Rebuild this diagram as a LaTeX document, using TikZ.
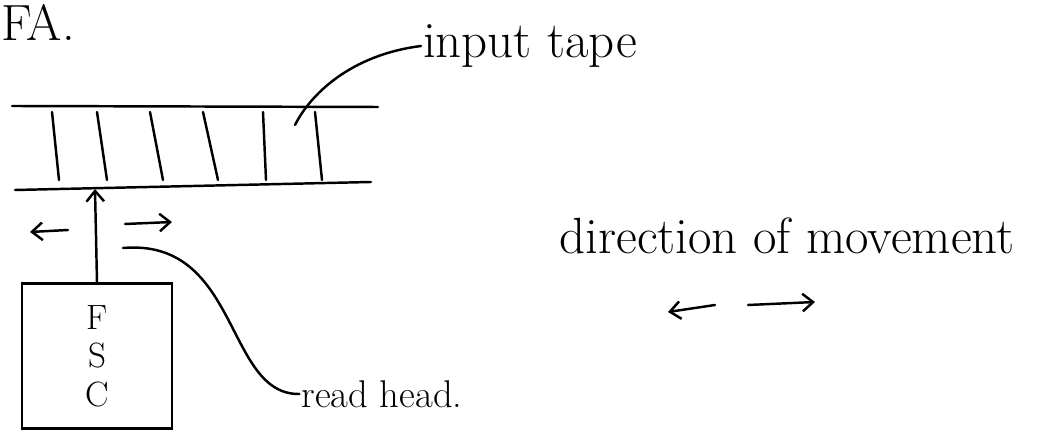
\documentclass[tikz,border=0pt]{standalone}
\usetikzlibrary{arrows.meta,positioning}
\tikzset{
  pen/.style={line width=1.4pt, line cap=round},
  hand/.style={font=\fontsize{29}{31}\selectfont, inner sep=1pt},
  smallhand/.style={font=\fontsize{22}{24}\selectfont, inner sep=1pt},
  letters/.style={font=\fontsize{20}{22}\selectfont, align=center},
  leader/.style={pen},
  headarrow/.style={pen, -{Straight Barb[length=6pt,width=10pt]}},
}
\begin{document}
\begin{tikzpicture}[x=0.02cm, y=-0.02cm]
  \useasboundingbox (0,0) rectangle (1061,431);
  % title
  \node[hand] (fa) at (38,22) {FA.};
  % the tape and its cells
  \draw[pen] (12,106) -- (378,107);
  \draw[pen] (15,190) -- (371,182);
  \foreach \xa/\xb in {52/59, 97/107, 150/163, 203/218, 263/266, 315/322}
    \draw[pen] (\xa,112) -- (\xb,180);
  \node[hand] (tape) at (530,46) {input tape};
  \coordinate (cell) at (295,125);
  \draw[leader] (tape.west) .. controls (350,55) and (310,95) .. (cell);
  % finite state control and head
  \node[pen, draw, minimum width=3cm, minimum height=2.9cm, letters] (fsc) at (97,356) {F\\S\\C};
  \coordinate (head) at (95,189);
  \draw[headarrow] (fsc.north) -- (head);
  \draw[headarrow] (68,230) -- (30,232);
  \draw[headarrow] (125,224) -- (172,222);
  \node[smallhand] (readhead) at (382,394) {read head.};
  \coordinate (near head) at (123,248);
  \draw[leader] (near head) .. controls (240,238) and (225,395) .. (readhead.west);
  % movement
  \node[hand] (move) at (787,236) {direction of movement};
  \draw[headarrow] (715,305) -- (668,312);
  \draw[headarrow] (748,305) -- (815,302);
\end{tikzpicture}
\end{document}
